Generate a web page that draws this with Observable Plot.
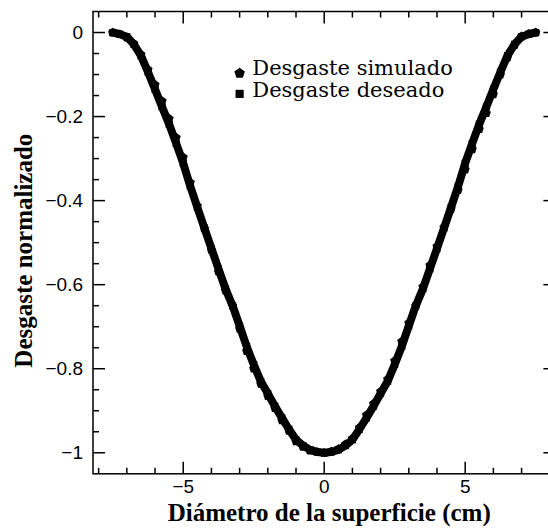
<!DOCTYPE html>
<html>
<head>
<meta charset="utf-8">
<script src="https://cdn.jsdelivr.net/npm/d3@7"></script>
<script src="https://cdn.jsdelivr.net/npm/@observablehq/plot@0.6"></script>
<style>
  html, body { margin: 0; padding: 0; background: #fff; overflow: hidden; }
  #chart svg { overflow: hidden; }
</style>
</head>
<body>
<div id="chart"></div>
<script>
// Posición a lo largo del diámetro (cm)
const diametro = [
  -7.5, -7.25, -7.0, -6.75, -6.5, -6.25, -6.0, -5.75, -5.5, -5.25,
  -5.0, -4.75, -4.5, -4.25, -4.0, -3.75, -3.5, -3.25, -3.0, -2.75,
  -2.5, -2.25, -2.0, -1.75, -1.5, -1.25, -1.0, -0.75, -0.5, -0.25,
  0,
  0.25, 0.5, 0.75, 1.0, 1.25, 1.5, 1.75, 2.0, 2.25, 2.5,
  2.75, 3.0, 3.25, 3.5, 3.75, 4.0, 4.25, 4.5, 4.75, 5.0,
  5.25, 5.5, 5.75, 6.0, 6.25, 6.5, 6.75, 7.0, 7.25, 7.5
];

// Desgaste normalizado obtenido en la simulación
const desgasteSimulado = [
  0, -0.004, -0.012, -0.027, -0.052, -0.088, -0.124, -0.163, -0.205, -0.250,
  -0.297, -0.357, -0.413, -0.466, -0.518, -0.569, -0.614, -0.650, -0.705, -0.758,
  -0.800, -0.836, -0.865, -0.894, -0.923, -0.948, -0.973, -0.986, -0.995, -0.998,
  -1.000,
  -0.997, -0.991, -0.980, -0.966, -0.940, -0.910, -0.883, -0.854, -0.825, -0.781,
  -0.735, -0.691, -0.650, -0.605, -0.554, -0.509, -0.464, -0.420, -0.375, -0.326,
  -0.278, -0.230, -0.192, -0.147, -0.100, -0.060, -0.030, -0.009, -0.003, 0
];

// Desgaste normalizado deseado
const desgasteDeseado = [
  0, -0.004, -0.010, -0.028, -0.055, -0.094, -0.135, -0.177, -0.218, -0.264,
  -0.311, -0.366, -0.416, -0.465, -0.514, -0.562, -0.610, -0.650, -0.698, -0.747,
  -0.790, -0.830, -0.859, -0.889, -0.917, -0.944, -0.969, -0.983, -0.993, -0.998,
  -1.000,
  -0.998, -0.993, -0.983, -0.969, -0.944, -0.917, -0.889, -0.859, -0.830, -0.790,
  -0.747, -0.698, -0.650, -0.610, -0.562, -0.514, -0.465, -0.416, -0.366, -0.311,
  -0.264, -0.218, -0.177, -0.135, -0.094, -0.055, -0.028, -0.010, -0.004, 0
];

const xTicks = [-5, 0, 5];
const xMinorTicks = [-8, -7, -6, -4, -3, -2, -1, 1, 2, 3, 4, 6, 7, 8];
const yTicks = [-1, -0.8, -0.6, -0.4, -0.2, 0];
const yMinorTicks = [
  -0.95, -0.9, -0.85, -0.75, -0.7, -0.65, -0.55, -0.5, -0.45,
  -0.35, -0.3, -0.25, -0.15, -0.1, -0.05
];

const xTitle = "Diámetro de la superficie (cm)";
const yTitle = "Desgaste normalizado";
const legendLabels = ["Desgaste simulado", "Desgaste deseado"];
// Ubicación de la leyenda en coordenadas de los datos
const legendX = [-3.0, -2.55];
const legendY = [-0.097, -0.146];
const legendTextY = [-0.086, -0.137];

const simulado = diametro.map((x, i) => ({x, y: desgasteSimulado[i]}));
const deseado = diametro.map((x, i) => ({x, y: desgasteDeseado[i]}));

// Símbolo pentagonal para el desgaste simulado
const pentagon = {
  draw(context, size) {
    const r = Math.sqrt(size / Math.PI) * 1.2;
    for (let i = 0; i < 5; ++i) {
      const a = -Math.PI / 2 + i * 2 * Math.PI / 5;
      const px = r * Math.cos(a), py = r * Math.sin(a);
      if (i) context.lineTo(px, py); else context.moveTo(px, py);
    }
    context.closePath();
  }
};

const W = 548, H = 528;
const margin = {left: 92.5, right: -6.9, top: 11, bottom: 54.7};
const xDomain = [-8.2, 8.2];
const yDomain = [-1.05, 0.05];
const frameW = W - margin.left - margin.right;
const frameH = H - margin.top - margin.bottom;

// Longitud de las marcas de graduación (12 px y 6 px) en unidades de cada eje
const xPerPx = (xDomain[1] - xDomain[0]) / frameW;
const yPerPx = (yDomain[1] - yDomain[0]) / frameH;
const majorX = 12 * xPerPx, minorX = 6 * xPerPx;
const majorY = 12 * yPerPx, minorY = 6 * yPerPx;

// Segmentos de cada marca: inferior, superior, izquierda y derecha
const ticksX = (values, len) => values.flatMap(v => [
  {x1: v, x2: v, y1: yDomain[0], y2: yDomain[0] + len},
  {x1: v, x2: v, y1: yDomain[1], y2: yDomain[1] - len}
]);
const ticksY = (values, len) => values.flatMap(v => [
  {y1: v, y2: v, x1: xDomain[0], x2: xDomain[0] + len},
  {y1: v, y2: v, x1: xDomain[1], x2: xDomain[1] - len}
]);
const tickSegments = [
  ...ticksX(xMinorTicks, minorY), ...ticksX(xTicks, majorY),
  ...ticksY(yMinorTicks, minorX), ...ticksY(yTicks, majorX)
];

const fmt = d => d === 0 ? "0" : (d < 0 ? "\u2212" : "") + Math.abs(d);
const sans = "'Liberation Sans', Arial, Helvetica, sans-serif";
const serif = "'Liberation Serif', 'Times New Roman', serif";
const legendFont = "'DejaVu Serif', serif";
const tickLabel = {fontSize: 19, fontFamily: sans, tickSize: 0, label: null, tickFormat: fmt};

const chart = Plot.plot({
  width: W,
  height: H,
  marginLeft: margin.left,
  marginRight: margin.right,
  marginTop: margin.top,
  marginBottom: margin.bottom,
  x: {domain: xDomain, label: null},
  y: {domain: yDomain, label: null},
  style: {background: "white", color: "black"},
  marks: [
    // etiquetas de los ejes
    Plot.axisX(xTicks, {anchor: "bottom", tickPadding: 6, ...tickLabel}),
    Plot.axisY(yTicks, {anchor: "left", tickPadding: 10, ...tickLabel}),
    // curvas de desgaste
    Plot.line(deseado, {x: "x", y: "y", stroke: "black", strokeWidth: 8, strokeLinejoin: "round", strokeLinecap: "round"}),
    Plot.dot(deseado, {x: "x", y: "y", symbol: "square", r: 4, fill: "black", stroke: "none"}),
    Plot.dot(simulado, {x: "x", y: "y", symbol: pentagon, r: 4, fill: "black", stroke: "none"}),
    // leyenda
    Plot.dot([0], {x: legendX[0], y: legendY[0], symbol: pentagon, r: 4.6, fill: "black", stroke: "none"}),
    Plot.dot([0], {x: legendX[0], y: legendY[1], symbol: "square", r: 4.6, fill: "black", stroke: "none"}),
    Plot.text(legendLabels, {
      x: legendX[1], y: (d, i) => legendTextY[i], text: d => d,
      textAnchor: "start", fontFamily: legendFont, fontSize: 21, fill: "black"
    }),
    // títulos de los ejes
    Plot.text([xTitle], {
      frameAnchor: "bottom", dx: 5, dy: 39, text: d => d, textAnchor: "middle", lineAnchor: "middle",
      fontFamily: serif, fontWeight: "bold", fontSize: 25, fill: "black"
    }),
    Plot.text([yTitle], {
      frameAnchor: "left", dx: -69, dy: 8, rotate: -90, text: d => d,
      textAnchor: "middle", lineAnchor: "middle",
      fontFamily: serif, fontWeight: "bold", fontSize: 25, fill: "black"
    }),
    Plot.frame({stroke: "black", strokeWidth: 1.5}),
    // marcas de graduación hacia el interior en los cuatro lados
    Plot.link(tickSegments, {
      x1: "x1", y1: "y1", x2: "x2", y2: "y2",
      stroke: "#000", strokeWidth: 1.5, strokeOpacity: 1
    })
  ]
});

document.getElementById("chart").appendChild(chart);
</script>
</body>
</html>
